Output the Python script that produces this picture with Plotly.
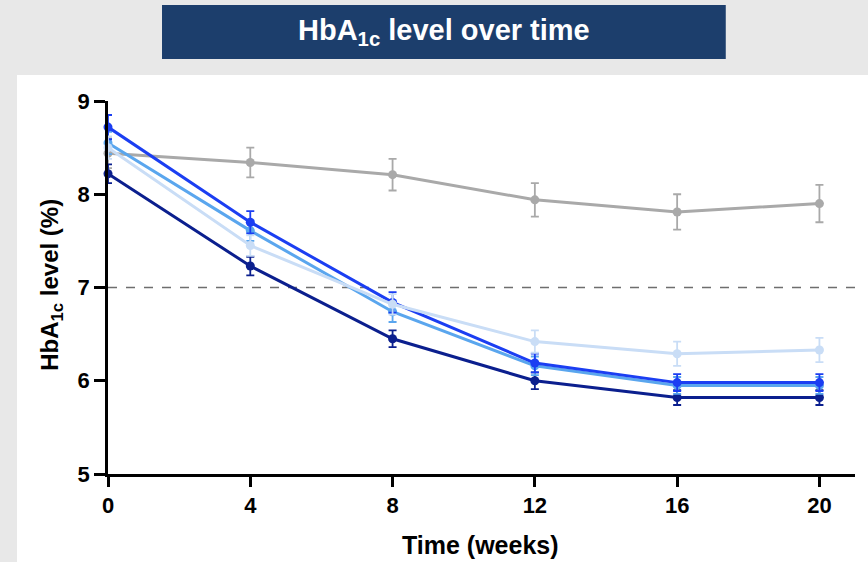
import plotly.graph_objects as go

weeks = [0, 4, 8, 12, 16, 20]
placebo = [8.44, 8.34, 8.21, 7.94, 7.81, 7.90]
placebo_err = [0.16, 0.16, 0.17, 0.18, 0.19, 0.20]
navy = [8.22, 7.23, 6.45, 6.00, 5.82, 5.82]
navy_err = [0.10, 0.10, 0.09, 0.09, 0.08, 0.08]
medium = [8.55, 7.61, 6.74, 6.16, 5.95, 5.95]
medium_err = [0.12, 0.11, 0.11, 0.10, 0.09, 0.09]
bright = [8.72, 7.70, 6.84, 6.19, 5.98, 5.98]
bright_err = [0.13, 0.12, 0.11, 0.10, 0.09, 0.09]
light = [8.50, 7.45, 6.82, 6.42, 6.29, 6.33]
light_err = [0.12, 0.11, 0.11, 0.12, 0.13, 0.13]

series = [
    (placebo, placebo_err, "#a9a9a9"),
    (navy, navy_err, "#0b1f8e"),
    (medium, medium_err, "#5aa6ee"),
    (bright, bright_err, "#1b3ef2"),
    (light, light_err, "#c9ddf6"),
]

fig = go.Figure()
for vals, errs, col in series:
    fig.add_trace(go.Scatter(
        x=weeks, y=vals, mode="lines+markers",
        line=dict(color=col, width=3),
        marker=dict(color=col, size=9),
        error_y=dict(type="data", array=errs, visible=True, color=col, thickness=1.8, width=4),
        showlegend=False, cliponaxis=False,
    ))

font = "Liberation Sans, Arial, sans-serif"
fig.update_layout(
    width=868, height=562,
    margin=dict(l=108, r=13, t=101, b=88),
    paper_bgcolor="#e8e8e8",
    plot_bgcolor="rgba(0,0,0,0)",
    font=dict(family=font, color="black"),
    xaxis=dict(range=[0, 21], tickvals=weeks, showgrid=False, zeroline=False,
               showline=True, linecolor="black", linewidth=2.5,
               ticks="outside", ticklen=10, tickwidth=2.5, tickcolor="black",
               tickfont=dict(size=22, family=font, weight="bold", color="black")),
    yaxis=dict(range=[5, 9], tickvals=[5, 6, 7, 8, 9], showgrid=False, zeroline=False,
               showline=True, linecolor="black", linewidth=2.5,
               ticks="outside", ticklen=11, tickwidth=2.5, tickcolor="black",
               tickfont=dict(size=22, family=font, weight="bold", color="black")),
    shapes=[
        dict(type="rect", xref="paper", yref="paper", x0=-0.1218, x1=1.02, y0=-0.24, y1=1.0697,
             fillcolor="white", line=dict(width=0), layer="below"),
        dict(type="rect", xref="paper", yref="paper", x0=0.0723, x1=0.827, y0=1.1126, y1=1.2574,
             fillcolor="#1c3e6c", line=dict(width=0), layer="below"),
        dict(type="line", xref="paper", yref="y", x0=0, x1=1, y0=7, y1=7,
             line=dict(color="#6e6e6e", width=1.5, dash="dash"), layer="below"),
    ],
    annotations=[
        dict(text="<b>HbA<sub>1c</sub> level over time</b>", xref="paper", yref="paper",
             x=0.4498, y=1.185, showarrow=False, font=dict(size=29, color="white", family=font),
             xanchor="center", yanchor="middle"),
        dict(text="<b>HbA<sub>1c</sub> level (%)</b>", xref="paper", yref="paper",
             x=-0.075, y=0.507, textangle=-90, showarrow=False,
             font=dict(size=24, color="black", family=font), xanchor="center", yanchor="middle"),
        dict(text="<b>Time (weeks)</b>", xref="paper", yref="paper",
             x=0.4993, y=-0.19, showarrow=False,
             font=dict(size=25, color="black", family=font), xanchor="center", yanchor="middle"),
    ],
)

fig.write_html("out.html")
